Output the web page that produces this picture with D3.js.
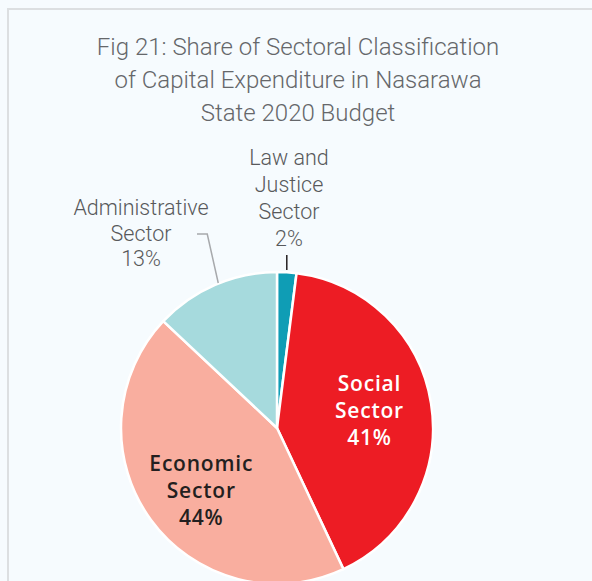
<!DOCTYPE html>
<html>
<head>
<meta charset="utf-8">
<script src="https://cdn.jsdelivr.net/npm/d3@7"></script>
<style>
  html, body { margin: 0; padding: 0; background: #f6fbfe; }
  svg { display: block; }
</style>
</head>
<body>
<svg id="chart" width="592" height="581"></svg>
<script>
// Sectoral classification of capital expenditure, Nasarawa State 2020 budget
const sectors = ["Law and Justice Sector", "Social Sector", "Economic Sector", "Administrative Sector"];
const shares = [2, 41, 44, 13];
const colors = ["#0f9db5", "#ed1c24", "#f9ae9f", "#a6dadd"];
const titleLines = [
  "Fig 21: Share of Sectoral Classification",
  "of Capital Expenditure in Nasarawa",
  "State 2020 Budget"
];

const W = 592, H = 581;
const svg = d3.select("#chart");

// panel border
svg.append("path")
  .attr("d", `M8,${H + 2} V9 H${W + 2}`)
  .attr("fill", "none")
  .attr("stroke", "#dcdfe1")
  .attr("stroke-width", 2);

// title
svg.append("g").selectAll("text")
  .data(titleLines)
  .join("text")
  .attr("x", 298)
  .attr("y", (d, i) => 55 + i * 33)
  .attr("text-anchor", "middle")
  .attr("font-family", "Roboto, 'Liberation Sans', sans-serif")
  .attr("font-weight", 300)
  .attr("font-size", 24)
  .attr("fill", "#65676a")
  .text(d => d);

const cx = 277, cy = 428, R = 156;
const data = sectors.map((s, i) => ({ name: s, value: shares[i], color: colors[i] }));
const pie = d3.pie().value(d => d.value).sort(null);
const arcs = pie(data);
const arc = d3.arc().innerRadius(0).outerRadius(R);

const g = svg.append("g").attr("transform", `translate(${cx},${cy})`);
g.selectAll("path")
  .data(arcs)
  .join("path")
  .attr("d", arc)
  .attr("fill", d => d.data.color)
  .attr("stroke", "#ffffff")
  .attr("stroke-width", 2.5)
  .attr("stroke-linejoin", "round");

// label text split into lines
function lines(d) {
  const words = d.data.name.split(" ");
  let parts;
  if (words.length === 4) parts = [words.slice(0, 2).join(" "), words[2], words[3]];
  else parts = words;
  return parts.concat([d.data.value + "%"]);
}

// inner labels for the two large slices
const inner = d3.arc().innerRadius(R * 0.6).outerRadius(R * 0.6);
const innerStyle = {
  "Social Sector": { fill: "#ffffff", dy: 5 },
  "Economic Sector": { fill: "#231f20", dy: 15 }
};
arcs.filter(d => innerStyle[d.data.name]).forEach(d => {
  const [x, y] = inner.centroid(d);
  const ls = lines(d);
  const st = innerStyle[d.data.name];
  const t = g.append("text")
    .attr("text-anchor", "middle")
    .attr("font-family", "'Open Sans', Lato, sans-serif")
    .attr("font-weight", 600)
    .attr("font-size", 21)
    .attr("letter-spacing", 0.8)
    .attr("fill", st.fill);
  ls.forEach((s, i) => {
    t.append("tspan")
      .attr("x", x)
      .attr("y", y + (i - (ls.length - 1) / 2) * 27 + st.dy)
      .text(s);
  });
});

// outer labels with leader lines
const outerFont = "Roboto, 'Liberation Sans', sans-serif";
function outerLabel(d, x, yTop, lh) {
  const ls = lines(d);
  const t = g.append("text")
    .attr("text-anchor", "middle")
    .attr("font-family", outerFont)
    .attr("font-weight", 300)
    .attr("font-size", 21.5)
    .attr("fill", "#58595b");
  ls.forEach((s, i) => {
    t.append("tspan").attr("x", x).attr("y", yTop + i * lh).text(s);
  });
}

const law = arcs[0];
const lawMid = (law.startAngle + law.endAngle) / 2;
const lawX = Math.sin(lawMid) * R;
outerLabel(law, 12, -263, 27);
g.append("line")
  .attr("x1", lawX).attr("x2", lawX)
  .attr("y1", -R - 2).attr("y2", -R - 17)
  .attr("stroke", "#231f20")
  .attr("stroke-width", 1.5);

const adm = arcs[3];
const admMid = (adm.startAngle + adm.endAngle) / 2;
outerLabel(adm, -136, -213, 25.5);
const p0 = [Math.sin(admMid) * (R + 2) + 4, -Math.cos(admMid) * (R + 2)];
g.append("polyline")
  .attr("points", [[p0[0], p0[1]], [p0[0] - 11, -194], [-80, -194]].map(p => p.join(",")).join(" "))
  .attr("fill", "none")
  .attr("stroke", "#a7a9ac")
  .attr("stroke-width", 1.5);
</script>
</body>
</html>
